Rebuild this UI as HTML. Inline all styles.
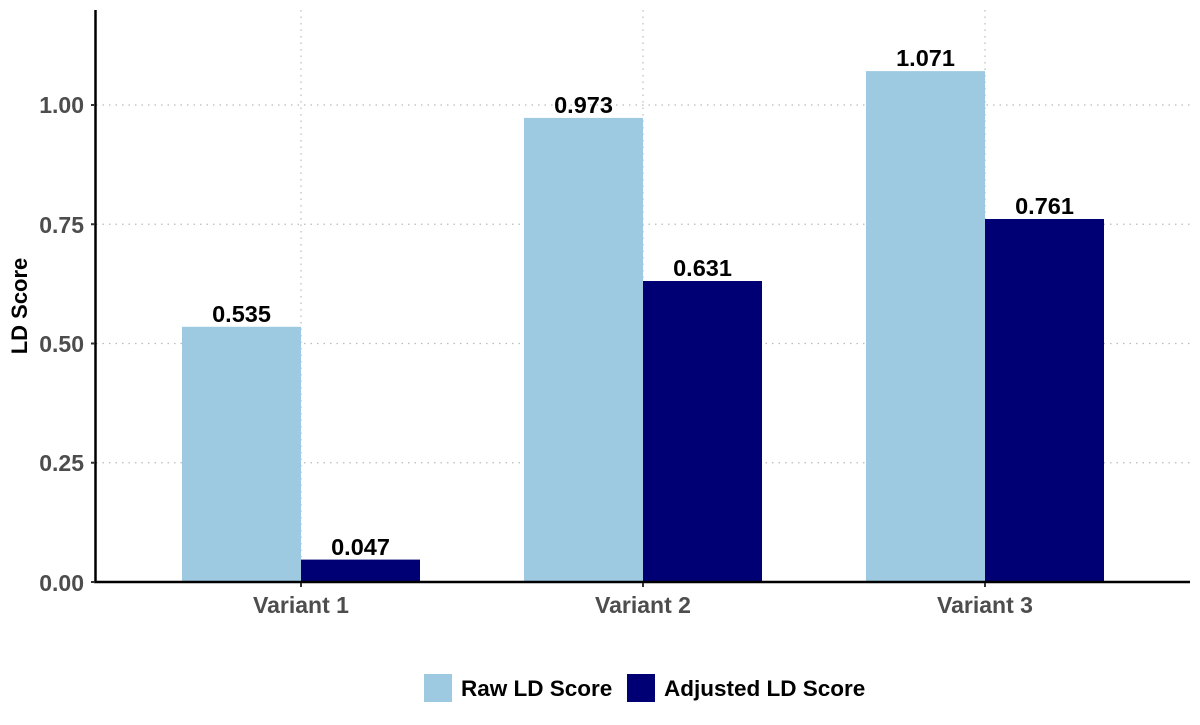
<!DOCTYPE html>
<html><head><style>body{margin:0;background:#fff}</style></head><body>
<svg width="1200" height="720" xmlns="http://www.w3.org/2000/svg" font-family="Liberation Sans, Arial, sans-serif" font-weight="bold">
<g stroke="#bbb" stroke-width="1.2" stroke-dasharray="1.5,5">
<line x1="96" x2="1190" y1="462.75" y2="462.75"/>
<line x1="96" x2="1190" y1="343.5" y2="343.5"/>
<line x1="96" x2="1190" y1="224.25" y2="224.25"/>
<line x1="96" x2="1190" y1="105" y2="105"/>
<line x1="301" x2="301" y1="10" y2="582"/>
<line x1="643" x2="643" y1="10" y2="582"/>
<line x1="985" x2="985" y1="10" y2="582"/>
</g>
<g fill="#9ecae1">
<rect x="182" y="326.8" width="119" height="255.2"/>
<rect x="524" y="117.9" width="119" height="464.1"/>
<rect x="866" y="71.1" width="119" height="510.9"/>
</g>
<g fill="#000074">
<rect x="301" y="559.6" width="119" height="22.4"/>
<rect x="643" y="281" width="119" height="301"/>
<rect x="985" y="219" width="119" height="363"/>
</g>
<g font-size="23.5" text-anchor="middle" fill="#000">
<text x="241.5" y="322">0.535</text>
<text x="360.5" y="555">0.047</text>
<text x="583.5" y="113">0.973</text>
<text x="702.5" y="276">0.631</text>
<text x="925.5" y="66">1.071</text>
<text x="1044.5" y="214">0.761</text>
</g>
<line x1="95.5" x2="95.5" y1="10" y2="583" stroke="#000" stroke-width="2.5"/>
<line x1="94" x2="1190" y1="582" y2="582" stroke="#000" stroke-width="2.5"/>
<g stroke="#333" stroke-width="2">
<line x1="91" x2="95" y1="582" y2="582"/><line x1="91" x2="95" y1="462.75" y2="462.75"/>
<line x1="91" x2="95" y1="343.5" y2="343.5"/><line x1="91" x2="95" y1="224.25" y2="224.25"/>
<line x1="91" x2="95" y1="105" y2="105"/>
<line x1="301" x2="301" y1="583" y2="587"/><line x1="643" x2="643" y1="583" y2="587"/><line x1="985" x2="985" y1="583" y2="587"/>
</g>
<g font-size="23" fill="#4d4d4d" text-anchor="end">
<text x="84" y="591">0.00</text><text x="84" y="471">0.25</text>
<text x="84" y="352">0.50</text><text x="84" y="233">0.75</text><text x="84" y="113">1.00</text>
</g>
<g font-size="23" fill="#4d4d4d" text-anchor="middle">
<text x="301" y="613">Variant 1</text><text x="643" y="613">Variant 2</text><text x="985" y="613">Variant 3</text>
</g>
<text transform="translate(27,306) rotate(-90)" font-size="22" text-anchor="middle" fill="#000">LD Score</text>
<rect x="424" y="674" width="28" height="28" fill="#9ecae1"/>
<text x="461" y="696" font-size="22.5" fill="#000">Raw LD Score</text>
<rect x="627" y="674" width="28" height="28" fill="#000074"/>
<text x="664" y="696" font-size="22.5" fill="#000">Adjusted LD Score</text>
</svg>
</body></html>
